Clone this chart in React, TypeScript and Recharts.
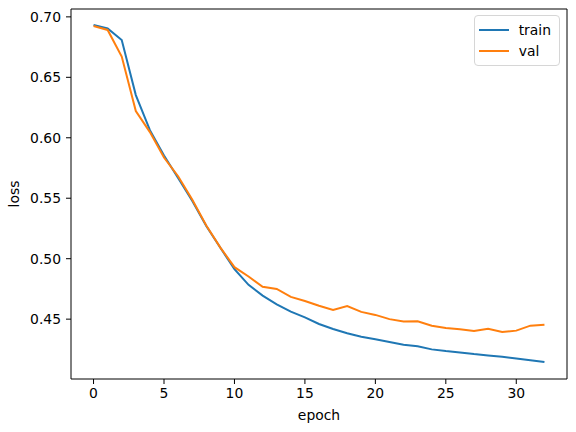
import React from 'react';
import {
  LineChart,
  Line,
  XAxis,
  YAxis,
  Legend,
  Label
} from 'recharts';

const epochs = [
  0, 1, 2, 3, 4, 5, 6, 7, 8, 9, 10, 11, 12, 13, 14, 15, 16,
  17, 18, 19, 20, 21, 22, 23, 24, 25, 26, 27, 28, 29, 30, 31, 32
];

const trainLoss = [
  0.6932, 0.6904, 0.6809, 0.6353, 0.6063, 0.5853, 0.5668, 0.5480, 0.5270,
  0.5090, 0.4914, 0.4784, 0.4695, 0.4623, 0.4562, 0.4515, 0.4460, 0.4418,
  0.4383, 0.4355, 0.4333, 0.4311, 0.4289, 0.4275, 0.4250, 0.4236, 0.4225,
  0.4211, 0.4200, 0.4189, 0.4175, 0.4161, 0.4145
];

const valLoss = [
  0.6924, 0.6892, 0.6672, 0.6221, 0.6047, 0.5837, 0.5682, 0.5490, 0.5275,
  0.5092, 0.4930, 0.4853, 0.4767, 0.4750, 0.4684, 0.4650, 0.4611, 0.4576,
  0.4609, 0.4560, 0.4535, 0.4500, 0.4480, 0.4483, 0.4446, 0.4427, 0.4416,
  0.4402, 0.4421, 0.4394, 0.4405, 0.4446, 0.4454
];

const xTicks = [0, 5, 10, 15, 20, 25, 30];
const yTicks = [0.45, 0.5, 0.55, 0.6, 0.65, 0.7];

const series = [
  { key: 'train', name: 'train', color: '#1f77b4' },
  { key: 'val', name: 'val', color: '#ff7f0e' }
];

const data = epochs.map((epoch, i) => ({
  epoch,
  train: trainLoss[i],
  val: valLoss[i]
}));

const FONT = '"DejaVu Sans", sans-serif';
const tickStyle = { fill: '#000', fontSize: 13.9, fontFamily: FONT };

const BoxLegend = () => (
  <div
    style={{
      border: '1px solid #d6d6d6',
      borderRadius: 4,
      background: 'rgba(255,255,255,0.8)',
      padding: '3px 8px 4px 4px',
      fontFamily: FONT,
      fontSize: 13.9,
      color: '#000'
    }}
  >
    {series.map(s => (
      <div key={s.key} style={{ display: 'flex', alignItems: 'center', height: 21 }}>
        <span
          style={{
            display: 'inline-block',
            width: 30,
            height: 2,
            background: s.color,
            marginRight: 10
          }}
        />
        <span>{s.name}</span>
      </div>
    ))}
  </div>
);

const App: React.FC = () => {
  return (
    <div style={{ position: 'absolute', left: 0, top: 0, width: 576, height: 432, background: '#fff' }}>
      <LineChart
        width={576}
        height={432}
        data={data}
        margin={{ top: 8, right: 8, bottom: 0, left: 0 }}
      >
        <XAxis
          dataKey="epoch"
          type="number"
          domain={[-1.6, 33.6]}
          ticks={xTicks}
          allowDataOverflow
          height={53}
          tickSize={5}
          tickMargin={4}
          stroke="#000"
          tick={tickStyle}
        >
          <Label
            value="epoch"
            position="insideBottom"
            offset={12}
            style={{ fill: '#000', fontSize: 13.9, fontFamily: FONT }}
          />
        </XAxis>
        {/* top and right spines */}
        <XAxis
          xAxisId="top"
          orientation="top"
          dataKey="epoch"
          type="number"
          domain={[-1.6, 33.6]}
          height={1}
          tick={false}
          tickLine={false}
          stroke="#000"
        />
        <YAxis
          type="number"
          domain={[0.4005, 0.7065]}
          ticks={yTicks}
          allowDataOverflow
          width={71}
          tickSize={5}
          tickMargin={5}
          stroke="#000"
          tick={tickStyle}
          tickFormatter={(v: number) => v.toFixed(2)}
        >
          <Label
            value="loss"
            angle={-90}
            position="insideLeft"
            offset={14}
            style={{ fill: '#000', fontSize: 13.9, fontFamily: FONT, textAnchor: 'middle' }}
          />
        </YAxis>
        <YAxis
          yAxisId="right"
          orientation="right"
          type="number"
          domain={[0.4005, 0.7065]}
          width={1}
          tick={false}
          tickLine={false}
          stroke="#000"
        />
        {/* middle/center keeps the legend from reserving layout space */}
        <Legend
          layout="horizontal"
          verticalAlign="middle"
          align="center"
          content={<BoxLegend />}
          wrapperStyle={{ position: 'absolute', top: 15, right: 16, left: 'auto', width: 'auto', height: 'auto' }}
        />
        {series.map(s => (
          <Line
            key={s.key}
            type="linear"
            dataKey={s.key}
            name={s.name}
            stroke={s.color}
            strokeWidth={2}
            dot={false}
            activeDot={false}
            isAnimationActive={false}
          />
        ))}
      </LineChart>
    </div>
  );
};

export default App;
